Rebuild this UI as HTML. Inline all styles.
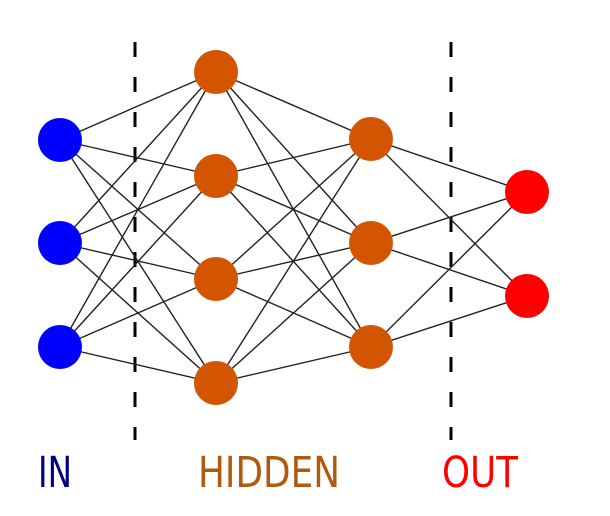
<!DOCTYPE html>
<html><head><style>body{margin:0;background:#fff}svg{display:block}</style></head><body>
<svg width="610" height="516" viewBox="0 0 610 516" xmlns="http://www.w3.org/2000/svg">
<g stroke="#000" stroke-width="3" stroke-dasharray="15,20">
<line x1="135" y1="42" x2="135" y2="440"/>
<line x1="451" y1="42" x2="451" y2="440"/>
</g>
<g stroke="#222" stroke-width="1.4">
<path d="M60 140L216 72M60 140L216 176M60 140L216 279M60 140L216 383
M60 243L216 72M60 243L216 176M60 243L216 279M60 243L216 383
M60 347L216 72M60 347L216 176M60 347L216 279M60 347L216 383
M216 72L371 139M216 72L371 243M216 72L371 347
M216 176L371 139M216 176L371 243M216 176L371 347
M216 279L371 139M216 279L371 243M216 279L371 347
M216 383L371 139M216 383L371 243M216 383L371 347
M371 139L527 192M371 139L527 296
M371 243L527 192M371 243L527 296
M371 347L527 192M371 347L527 296" fill="none"/>
</g>
<g fill="#0000ff"><circle cx="60" cy="140" r="22"/><circle cx="60" cy="243" r="22"/><circle cx="60" cy="347" r="22"/></g>
<g fill="#d45500"><circle cx="216" cy="72" r="22"/><circle cx="216" cy="176" r="22"/><circle cx="216" cy="279" r="22"/><circle cx="216" cy="383" r="22"/>
<circle cx="371" cy="139" r="22"/><circle cx="371" cy="243" r="22"/><circle cx="371" cy="347" r="22"/></g>
<g fill="#ff0000"><circle cx="527" cy="192" r="22"/><circle cx="527" cy="296" r="22"/></g>
<g font-family="DejaVu Sans, Liberation Sans, sans-serif" font-size="43">
<text x="38" y="487" fill="#000080" textLength="34" lengthAdjust="spacingAndGlyphs">IN</text>
<text x="198" y="487" fill="#b05a10" textLength="142" lengthAdjust="spacingAndGlyphs">HIDDEN</text>
<text x="442" y="487" fill="#ff0000" textLength="76" lengthAdjust="spacingAndGlyphs">OUT</text>
</g>
</svg>
</body></html>
